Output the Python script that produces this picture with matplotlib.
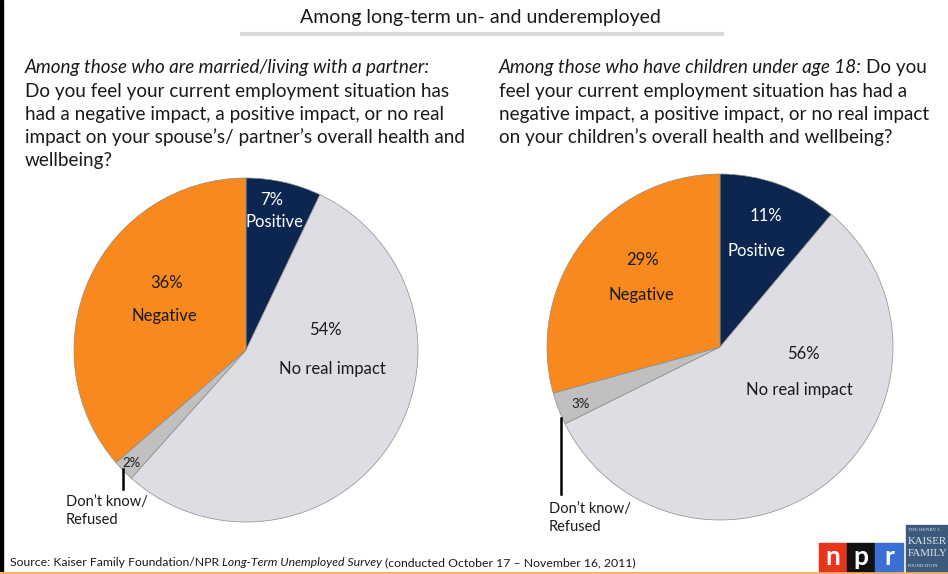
import matplotlib
matplotlib.use("Agg")
import matplotlib.pyplot as plt
from matplotlib.patches import Rectangle

plt.rcParams['font.family'] = ['Lato', 'DejaVu Sans']

W, H = 948, 574

# survey answers, clockwise from 12 o'clock
categories = ["Positive", "No real impact", "Don\u2019t know/\nRefused", "Negative"]
partner_pct = [7, 54, 2, 36]
children_pct = [11, 56, 3, 29]
slice_colors = ["#0c2650", "#dedde3", "#c0c0c0", "#f7891f"]

title = "Among long-term un- and underemployed"
q_partner_lead = "Among those who are married/living with a partner:"
q_partner = ["Do you feel your current employment situation has",
             "had a negative impact, a positive impact, or no real",
             "impact on your spouse\u2019s/ partner\u2019s overall health and",
             "wellbeing?"]
q_children_lead = "Among those who have children under age 18:"
q_children_tail = "Do you"
q_children = ["feel your current employment situation has had a",
              "negative impact, a positive impact, or no real impact",
              "on your children\u2019s overall health and wellbeing?"]

fig = plt.figure(figsize=(W / 100, H / 100), dpi=100)
ax = fig.add_axes([0, 0, 1, 1])
rend = fig.canvas.get_renderer()
QS = 13.6


def py(y):
    # top-down pixel row -> data y
    return H - y


def run_text(x, y, parts, size, gap):
    for s, style in parts:
        t = ax.text(x, py(y), s, fontsize=size, style=style, ha='left', va='center', color='#1a1a1a')
        x += t.get_window_extent(renderer=rend).width + gap


def draw_pie(vals, cx, cy, r, spots, small_spot, leader, dk_spot):
    ax.pie(vals, colors=slice_colors, startangle=90, counterclock=False,
           center=(cx, py(cy)), radius=r, frame=True,
           wedgeprops=dict(edgecolor='#8c8c8c', linewidth=0.5))
    for i in (0, 1, 3):
        (vx, vy), (lx, ly) = spots[i]
        c = 'white' if i == 0 else '#1a1a1a'
        ax.text(vx, py(vy), f"{vals[i]}%", fontsize=12, color=c, ha='center', va='center')
        ax.text(lx, py(ly), categories[i], fontsize=12, color=c, ha='center', va='center')
    ax.text(small_spot[0], py(small_spot[1]), f"{vals[2]}%", fontsize=9.5,
            color='#1a1a1a', ha='center', va='center')
    ax.plot([leader[0], leader[0]], [py(leader[1]), py(leader[2])], color='black', lw=1.8)
    ax.text(dk_spot[0], py(dk_spot[1]), categories[2], fontsize=10.5, color='#1a1a1a',
            ha='left', va='center', linespacing=1.45)


draw_pie(partner_pct, 246, 350, 172,
         {0: ((272, 200), (275, 222)), 1: ((325, 330), (332, 369)), 3: ((167, 283), (164, 316))},
         (132, 463), (123, 469, 489), (66, 511))
draw_pie(children_pct, 720, 347, 173,
         {0: ((766, 216), (757, 251)), 1: ((803, 354), (799, 390)), 3: ((643, 260), (641, 295))},
         (581, 404), (561, 418, 494), (549, 518))

# headline and underline
ax.text(480, py(17), title, fontsize=14, ha='center', va='center', color='#1a1a1a')
ax.plot([240, 724], [py(34), py(34)], color='#d9d9d9', lw=3, solid_capstyle='butt')

# question texts
ax.text(25, py(68), q_partner_lead, fontsize=QS, style='italic', ha='left', va='center', color='#1a1a1a')
for k, line in enumerate(q_partner):
    ax.text(25, py(91 + 23.2 * k), line, fontsize=QS, ha='left', va='center', color='#1a1a1a')
run_text(499, 68, [(q_children_lead, 'italic'), (q_children_tail, 'normal')], QS, 4.5)
for k, line in enumerate(q_children):
    ax.text(499, py(91 + 23.2 * k), line, fontsize=QS, ha='left', va='center', color='#1a1a1a')

# source line
run_text(10, 563, [("Source: Kaiser Family Foundation/NPR", 'normal'),
                   ("Long-Term Unemployed Survey", 'italic'),
                   ("(conducted October 17 \u2013 November 16, 2011)", 'normal')], 8.85, 3)

# logos
for k, (ch, col) in enumerate(zip("npr", ["#e8351d", "#111111", "#3a6fd6"])):
    x0 = 819 + 28 * k
    ax.add_patch(Rectangle((x0, py(571)), 28, 28, color=col, zorder=3))
    ax.text(x0 + 14, py(557), ch, fontsize=19, fontweight='bold', color='white',
            ha='center', va='center', zorder=4)
ax.add_patch(Rectangle((906, py(571)), 50, 46, color='#3c5a7c', zorder=3))
for yy, s, fs in [(530, "THE HENRY J.", 3.6), (542, "KAISER", 7.8), (554, "FAMILY", 7.8), (566, "FOUNDATION", 3.4)]:
    ax.text(908, py(yy), s, fontsize=fs, color='#dfe6ee', ha='left', va='center', zorder=4,
            family='Liberation Serif')

# frame pieces
ax.add_patch(Rectangle((0, 0), 3, H, color='black'))
ax.plot([0, W], [py(572.5), py(572.5)], color='#f6b36c', lw=1.5)

ax.set_xlim(0, W)
ax.set_ylim(0, H)
ax.set_aspect('equal')
ax.axis('off')

fig.savefig("out.png", dpi=100)
